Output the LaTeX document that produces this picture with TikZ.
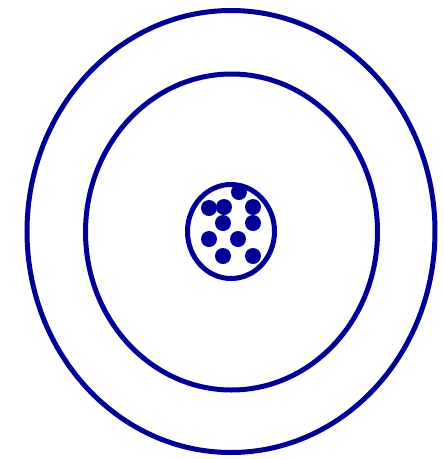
\documentclass[tikz,border=0pt]{standalone}
\usetikzlibrary{shapes.geometric}
\definecolor{shell}{RGB}{0,0,150}
\tikzset{
  orbit/.style={draw=shell, line width=5pt, ellipse, inner sep=0pt},
  electron/.style={fill=shell, circle, inner sep=0pt, minimum size=16pt}
}
\begin{document}
\begin{tikzpicture}[x=1pt,y=-1pt]
\useasboundingbox (0,0) rectangle (444,459);
\node[orbit, minimum width=408pt, minimum height=442pt] (outer) at (231,231.5) {};
\node[orbit, minimum width=292pt, minimum height=316pt] (inner) at (231.5,232) {};
\node[orbit, minimum width=87pt, minimum height=94pt] (nucleus) at (231,231.5) {};
\node[electron] (p1) at (239,192) {};
\node[electron] (p2) at (209,208) {};
\node[electron] (p3) at (224,207) {};
\node[electron] (p4) at (253,207) {};
\node[electron] (p5) at (223,223) {};
\node[electron] (p6) at (253,223) {};
\node[electron] (p7) at (209,239) {};
\node[electron] (p8) at (238,239) {};
\node[electron] (p9) at (223,256) {};
\node[electron] (p10) at (253,256) {};
\end{tikzpicture}
\end{document}
